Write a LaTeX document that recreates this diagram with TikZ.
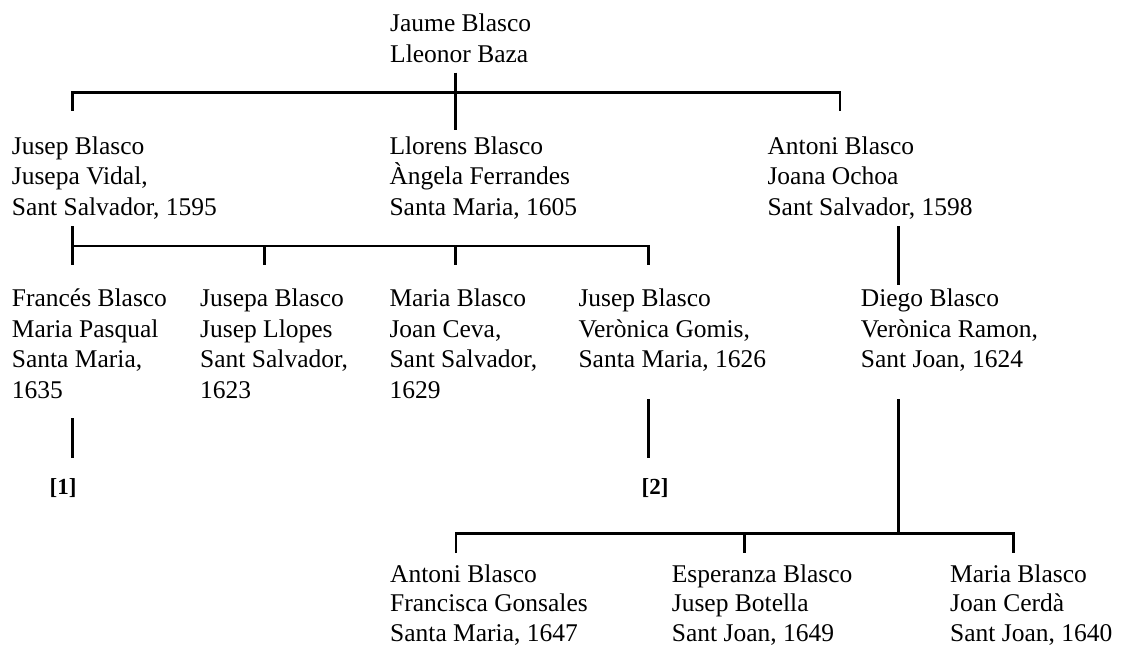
\documentclass[tikz,border=0pt]{standalone}
\usepackage{fontspec}
\setmainfont{Liberation Serif}

% a left-aligned block of lines whose baseline is that of its first line
\newcommand\entry[2][30.5pt]{\vtop{\baselineskip=#1\halign{##\hfil\cr#2\crcr}}}

\tikzset{
  person/.style={anchor=base west, inner sep=0pt, font=\rmfamily\fontsize{25.5}{30.5}\selectfont},
  refmark/.style={anchor=base, inner sep=0pt, font=\rmfamily\fontsize{23}{28}\selectfont\bfseries},
  link/.style={line width=2.8pt, line join=miter}
}

\begin{document}
\begin{tikzpicture}[x=1pt,y=-1pt]
\useasboundingbox (0,0) rectangle (1121,646);

% ---- couples ----
\node[person] (jaume)   at (390,31.7)   {\entry{Jaume Blasco\cr Lleonor Baza}};
\node[person] (jusep)   at (11.7,154)   {\entry{Jusep Blasco\cr Jusepa Vidal,\cr Sant Salvador, 1595}};
\node[person] (llorens) at (389.3,154)  {\entry{Llorens Blasco\cr Àngela Ferrandes\cr Santa Maria, 1605}};
\node[person] (antoni)  at (767.3,154)  {\entry{Antoni Blasco\cr Joana Ochoa\cr Sant Salvador, 1598}};

\node[person] (frances) at (11.7,306.7) {\entry{Francés Blasco\cr Maria Pasqual\cr Santa Maria,\cr 1635}};
\node[person] (jusepa)  at (200,306.7)  {\entry{Jusepa Blasco\cr Jusep Llopes\cr Sant Salvador,\cr 1623}};
\node[person] (maria)   at (389.3,306.7){\entry{Maria Blasco\cr Joan Ceva,\cr Sant Salvador,\cr 1629}};
\node[person] (jusepb)  at (578.3,306.7){\entry{Jusep Blasco\cr Verònica Gomis,\cr Santa Maria, 1626}};
\node[person] (diego)   at (860.7,306.7){\entry{Diego Blasco\cr Verònica Ramon,\cr Sant Joan, 1624}};

\node[refmark] (ref1) at (63,494.7)  {[1]};
\node[refmark] (ref2) at (655,494.7) {[2]};

\node[person] (antonib)   at (390,582)   {\entry[29.5pt]{Antoni Blasco\cr Francisca Gonsales\cr Santa Maria, 1647}};
\node[person] (esperanza) at (671.7,582) {\entry[29.5pt]{Esperanza Blasco\cr Jusep Botella\cr Sant Joan, 1649}};
\node[person] (mariab)    at (950,582)   {\entry[29.5pt]{Maria Blasco\cr Joan Cerdà\cr Sant Joan, 1640}};

% ---- line ends ----
\coordinate (jaume-top)  at (455.7,72.7);
\coordinate (jaume-bot)  at (455.7,130);
\coordinate (g1-left)    at (72.3,110.7);
\coordinate (g1-bar-l)   at (72.3,92.3);
\coordinate (g1-bar-r)   at (840,92.3);
\coordinate (g1-right)   at (840,110.7);

\coordinate (jusep-top)  at (72.3,226);
\coordinate (jusep-bot)  at (72.3,265);
\coordinate (g2-bar-l)   at (72.3,246);
\coordinate (g2-bar-r)   at (648.3,246);
\coordinate (g2-right)   at (648.3,265);
\coordinate (g2-b-top)   at (264.3,246);
\coordinate (g2-b-bot)   at (264.3,265);
\coordinate (g2-c-top)   at (455.7,246);
\coordinate (g2-c-bot)   at (455.7,265);

\coordinate (antoni-top) at (898.3,226);
\coordinate (antoni-bot) at (898.3,285);

\coordinate (ref1-top)   at (72.3,418);
\coordinate (ref1-bot)   at (72.3,458);
\coordinate (ref2-top)   at (648.3,399);
\coordinate (ref2-bot)   at (648.3,458);

\coordinate (diego-top)  at (898.3,399);
\coordinate (g3-join)    at (898.3,533.7);
\coordinate (g3-left)    at (456,553);
\coordinate (g3-bar-l)   at (456,533.7);
\coordinate (g3-bar-r)   at (1013.3,533.7);
\coordinate (g3-right)   at (1013.3,553);
\coordinate (g3-b-top)   at (744.3,533.7);
\coordinate (g3-b-bot)   at (744.3,553);

% ---- connectors ----
\draw[link] (jaume-top) -- (jaume-bot);
\draw[link] (g1-left) -- (g1-bar-l) -- (g1-bar-r) -- (g1-right);

\draw[link] (jusep-top) -- (jusep-bot);
\draw[link] (g2-bar-l) -- (g2-bar-r) -- (g2-right);
\draw[link] (g2-b-top) -- (g2-b-bot);
\draw[link] (g2-c-top) -- (g2-c-bot);

\draw[link] (antoni-top) -- (antoni-bot);

\draw[link] (ref1-top) -- (ref1-bot);
\draw[link] (ref2-top) -- (ref2-bot);

\draw[link] (diego-top) -- (g3-join);
\draw[link] (g3-left) -- (g3-bar-l) -- (g3-bar-r) -- (g3-right);
\draw[link] (g3-b-top) -- (g3-b-bot);
\end{tikzpicture}
\end{document}
